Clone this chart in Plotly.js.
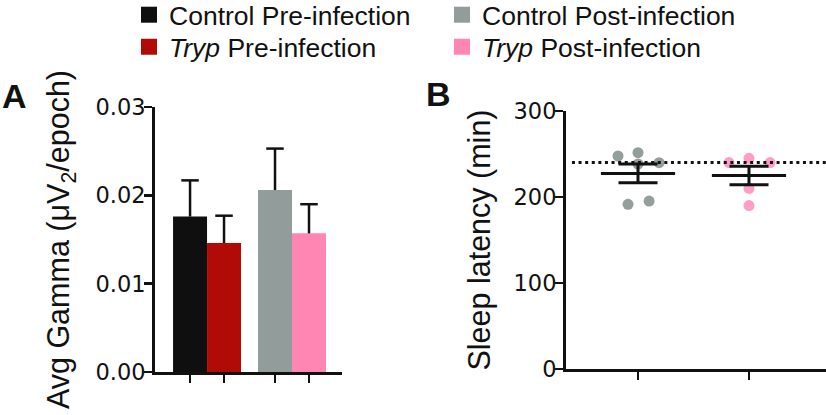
<!DOCTYPE html>
<html>
<head>
<meta charset="utf-8">
<script src="https://cdn.plot.ly/plotly-3.0.1.min.js"></script>
<style>
  html, body { margin: 0; padding: 0; background: #fff; }
  #plotArea { width: 826px; height: 415px; }
</style>
</head>
<body>
<div id="plotArea"></div>
<script>
// Panel A - avg gamma power (mean + SEM, upper bar only)
var groupsA = ["Pre-infection", "Post-infection"];
var controlGamma = [0.0176, 0.0206];
var controlGammaErr = [0.0041, 0.0047];
var trypGamma = [0.0146, 0.0157];
var trypGammaErr = [0.0031, 0.0033];

// Panel B - sleep latency, one dot per animal
var controlLatency = [247.7, 251.5, 238.4, 239.9, 191.5, 195.3];
var controlJitter = [-0.18, 0, 0, 0.19, -0.09, 0.1];
var trypLatency = [240, 245, 240, 210, 190];
var trypJitter = [-0.18, 0, 0.19, 0, 0];
var baselineLatency = 240;

var colors = {
    ctrlPre: "#0f0f0f",
    trypPre: "#b00b06",
    ctrlPost: "#919c9b",
    trypPost: "#ff86b2",
    ctrlDot: "#949e9c",
    trypDot: "#fd9dc8"
};

function mean(a) {
    var s = 0;
    for (var i = 0; i < a.length; i++) s += a[i];
    return s / a.length;
}
function sem(a) {
    var m = mean(a), ss = 0;
    for (var i = 0; i < a.length; i++) ss += (a[i] - m) * (a[i] - m);
    return Math.sqrt(ss / (a.length - 1)) / Math.sqrt(a.length);
}

var xA = groupsA.map(function (g, i) { return i; });
var barHalf = 0.2; // each bar is half of the 0.8 group width

var ctrlBars = {
    type: "bar", x: xA, y: controlGamma, name: "Control",
    marker: { color: [colors.ctrlPre, colors.ctrlPost] },
    error_y: { type: "data", symmetric: false, array: controlGammaErr, arrayminus: [0, 0],
        color: "#111", thickness: 2.5, width: 0 },
    showlegend: false, hoverinfo: "y"
};
var trypBars = {
    type: "bar", x: xA, y: trypGamma, name: "Tryp",
    marker: { color: [colors.trypPre, colors.trypPost] },
    error_y: { type: "data", symmetric: false, array: trypGammaErr, arrayminus: [0, 0],
        color: "#111", thickness: 2.5, width: 0 },
    showlegend: false, hoverinfo: "y"
};
// caps on top of the error bars only (no cap on the bar top)
var capX = xA.map(function (x) { return x - barHalf; }).concat(xA.map(function (x) { return x + barHalf; }));
var capY = controlGamma.map(function (v, i) { return v + controlGammaErr[i]; })
    .concat(trypGamma.map(function (v, i) { return v + trypGammaErr[i]; }));
var caps = {
    type: "scatter", mode: "markers", x: capX, y: capY,
    marker: { symbol: "line-ew", size: 12.5, line: { width: 2.5, color: "#111" } },
    showlegend: false, hoverinfo: "skip"
};

var ctrlDots = {
    type: "scatter", mode: "markers", xaxis: "x2", yaxis: "y2",
    x: controlJitter.map(function (j) { return 0 + j; }), y: controlLatency,
    marker: { size: 11, color: colors.ctrlDot }, showlegend: false
};
var trypDots = {
    type: "scatter", mode: "markers", xaxis: "x2", yaxis: "y2",
    x: trypJitter.map(function (j) { return 1 + j; }), y: trypLatency,
    marker: { size: 11, color: colors.trypDot }, showlegend: false
};
var meanLines = {
    type: "scatter", mode: "markers", xaxis: "x2", yaxis: "y2",
    x: [0, 1], y: [mean(controlLatency), mean(trypLatency)],
    marker: { symbol: "line-ew", size: 53, line: { width: 3, color: "#111" } },
    error_y: { type: "data", array: [sem(controlLatency), sem(trypLatency)],
        color: "#111", thickness: 3, width: 19.5 },
    showlegend: false
};

// legend swatches (no data of their own)
function swatch(name, color, legendId) {
    return { type: "scatter", mode: "markers", x: [null], y: [null], name: name,
        marker: { symbol: "square", size: 16, color: color }, legend: legendId, hoverinfo: "skip" };
}
var legendTraces = [
    swatch("Control Pre-infection", colors.ctrlPre, "legend"),
    swatch("Control Post-infection", colors.ctrlPost, "legend"),
    swatch("<i>Tryp</i> Pre-infection", colors.trypPre, "legend2"),
    swatch("<i>Tryp</i> Post-infection", colors.trypPost, "legend2")
];

var tickFont = { family: "DejaVu Sans, Liberation Sans, sans-serif", size: 22.5, color: "#111" };

var axisCommon = {
    showline: true, linewidth: 3, linecolor: "#111", showgrid: false, zeroline: false,
    ticks: "outside", ticklen: 8, tickwidth: 2.5, tickcolor: "#111", fixedrange: true
};

var legendCommon = {
    orientation: "h", xanchor: "left", yanchor: "middle",
    font: { size: 26.5, color: "#111" }, entrywidth: 268, entrywidthmode: "pixels",
    bgcolor: "rgba(0,0,0,0)", itemclick: false, itemdoubleclick: false
};

var layout = {
    width: 826, height: 415,
    margin: { l: 0, r: 0, t: 0, b: 0, autoexpand: false },
    paper_bgcolor: "#fff", plot_bgcolor: "#fff",
    font: { family: "Liberation Sans, Arial, Helvetica, sans-serif", color: "#111", size: 25 },
    barmode: "group", bargap: 0.2, bargroupgap: 0,
    xaxis: Object.assign({}, axisCommon, {
        domain: [0.1877, 0.414], range: [-0.612, 1.588],
        tickvals: [-0.2, 0.2, 0.8, 1.2], showticklabels: false
    }),
    yaxis: Object.assign({}, axisCommon, {
        domain: [0.1036, 0.742], range: [0, 0.03], dtick: 0.01, tickformat: ".2f",
        tickfont: tickFont, ticklabelstandoff: -6,
        title: { text: "Avg Gamma (μV<sub>2</sub>/epoch)", font: { size: 30.5 }, standoff: 17 }
    }),
    xaxis2: Object.assign({}, axisCommon, {
        domain: [0.6852, 1.0], range: [-0.649, 1.694], anchor: "y2",
        tickvals: [0, 1], showticklabels: false
    }),
    yaxis2: Object.assign({}, axisCommon, {
        domain: [0.1108, 0.7325], range: [0, 300], dtick: 100, anchor: "x2",
        tickfont: tickFont, ticklabelstandoff: -6,
        title: { text: "Sleep latency (min)", font: { size: 30.5 }, standoff: 14 }
    }),
    shapes: [{
        type: "line", xref: "x2 domain", yref: "y2",
        x0: 0.023, x1: 1, y0: baselineLatency, y1: baselineLatency,
        line: { color: "#111", width: 3, dash: "3px,3.6px" }
    }],
    annotations: [
        { text: "<b>A</b>", xref: "paper", yref: "paper", x: 0.0176, y: 0.7685,
          xanchor: "center", yanchor: "middle", showarrow: false, font: { size: 34 } },
        { text: "<b>B</b>", xref: "paper", yref: "paper", x: 0.5309, y: 0.7735,
          xanchor: "center", yanchor: "middle", showarrow: false, font: { size: 34 } }
    ],
    legend: Object.assign({}, legendCommon, { x: 0.1562, y: 0.9639 }),
    legend2: Object.assign({}, legendCommon, { x: 0.1562, y: 0.8867 })
};

var data = [ctrlBars, trypBars, caps, ctrlDots, trypDots, meanLines].concat(legendTraces);

Plotly.newPlot("plotArea", data, layout, { displayModeBar: false, staticPlot: true });
</script>
</body>
</html>
